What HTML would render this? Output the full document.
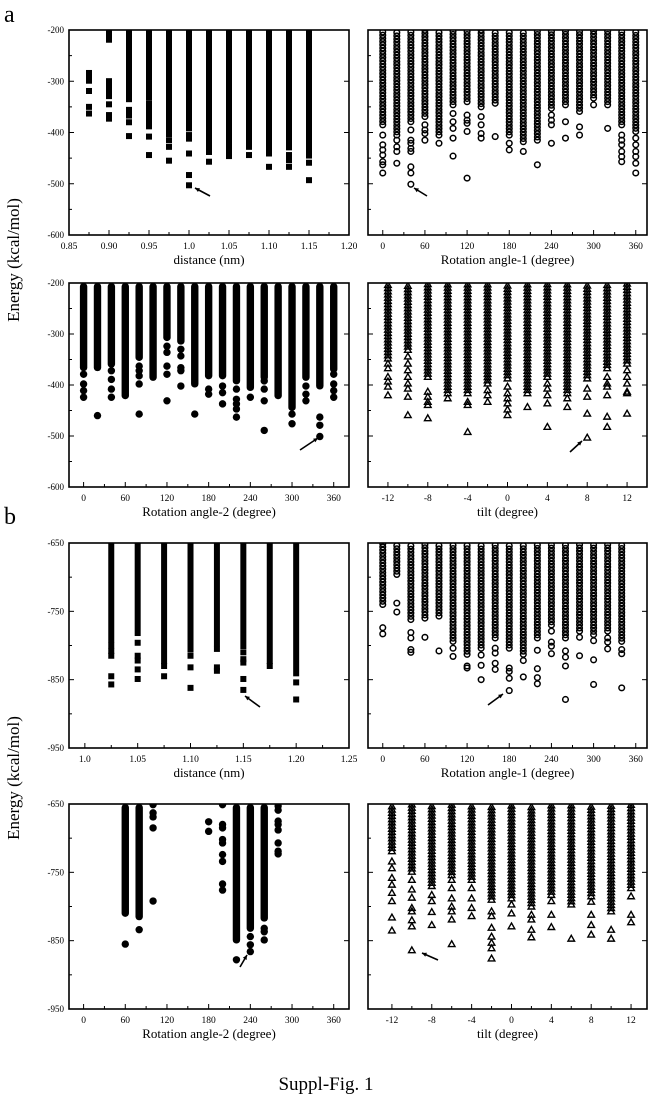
<!DOCTYPE html>
<html><head><meta charset="utf-8">
<style>
html,body{margin:0;padding:0;background:#fff;}
svg{display:block;font-family:"Liberation Serif",serif;}
</style></head>
<body>
<svg id="fig" width="652" height="1097" viewBox="0 0 652 1097" xmlns="http://www.w3.org/2000/svg">
<text x="4" y="22" font-size="24">a</text>
<text x="4" y="524" font-size="24">b</text>
<text transform="translate(19,260) rotate(-90)" text-anchor="middle" font-size="17">Energy (kcal/mol)</text>
<text transform="translate(19,778) rotate(-90)" text-anchor="middle" font-size="17">Energy (kcal/mol)</text>
<text x="326" y="1090" text-anchor="middle" font-size="19">Suppl-Fig. 1</text>
</svg>
<script>
// ---- data ----
const p1X=[0.875,0.90,0.925,0.95,0.975,1.0,1.025,1.05,1.075,1.10,1.125,1.15];
const p1Bands=[[[-278,-298]],[[-200,-218],[-294,-320]],[[-200,-327],[-350,-366]],[[-200,-330],[-337,-382]],[[-200,-402]],[[-200,-391]],[[-200,-418]],[[-200,-423]],[[-200,-427]],[[-200,-440]],[[-200,-428]],[[-200,-444]]];
const p1Pts=[[-319,-350,-363],[-329,-345,-366,-373],[-335,-380,-407],[-388,-408,-444],[-415,-428,-455],[-405,-412,-441,-483,-503],[-428,-438,-457],[-430,-440,-446],[-444],[-467],[-444,-454,-467],[-459,-493]];

const p2X=[0,20,40,60,80,100,120,140,160,180,200,220,240,260,280,300,320,340,360];
const p2Band=[-385,-405,-379,-369,-405,-346,-340,-350,-343,-405,-418,-415,-353,-346,-359,-333,-346,-385,-398];
const p2Pts=[[-405,-424,-434,-444,-457,-463,-479],[-415,-428,-437,-460],[-395,-415,-421,-431,-437,-467,-479,-501],[-385,-395,-402,-415],[-421],[-363,-379,-392,-411,-446],[-366,-376,-382,-398,-489],[-369,-385,-402,-411],[-408],[-421,-434],[-437],[-463],[-366,-376,-385,-421],[-379,-411],[-389,-405],[-346],[-392],[-405,-415,-424,-437,-447,-457],[-411,-424,-437,-447,-460,-479]];

const p3X=[0,20,40,60,80,100,120,140,160,180,200,220,240,260,280,300,320,340,360];
const p3Band=[-366,-366,-359,-421,-346,-385,-307,-314,-398,-382,-382,-392,-405,-385,-421,-444,-385,-402,-369];
const p3Pts=[[-379,-398,-411,-424],[-460],[-372,-389,-408,-424],[],[-363,-372,-382,-398,-457],[],[-324,-336,-363,-379,-431],[-330,-343,-366,-372,-402],[-457],[-408,-418],[-402,-415,-437],[-408,-428,-437,-447,-463],[-424],[-392,-408,-431,-489],[],[-457,-476],[-402,-418,-431],[-463,-479,-501],[-379,-398,-411,-424]];

const p4X=[-12,-10,-8,-6,-4,-2,0,2,4,6,8,10,12];
const p4Band=[-348,-331,-384,-416,-416,-397,-387,-416,-384,-416,-387,-367,-358];
const p4Pts=[[-358,-367,-384,-393,-403,-420],[-344,-358,-371,-384,-397,-407,-423,-459],[-413,-423,-433,-439,-465],[-426],[-433,-439,-492],[-410,-420,-433],[-403,-416,-426,-436,-448,-459],[-443],[-397,-407,-420,-436,-482],[-426,-443],[-407,-423,-456,-503],[-384,-397,-403,-420,-462,-482],[-371,-384,-397,-413,-416,-456]];

const p5X=[1.025,1.05,1.075,1.10,1.125,1.15,1.175,1.20];
const p5Band=[-791,-781,-822,-805,-796,-800,-822,-840];
const p5Pts=[[-800,-808,-815,-845,-857],[-796,-815,-822,-835,-849],[-830,-845],[-815,-832,-862],[-805,-832,-837],[-810,-820,-825,-849,-865],[-830],[-854,-879]];

const p6X=[0,20,40,60,80,100,120,140,160,180,200,220,240,260,280,300,320,340];
const p6Band=[-740,-696,-762,-760,-757,-794,-813,-804,-789,-804,-813,-789,-770,-789,-779,-784,-779,-794];
const p6Pts=[[-774,-783],[-738,-751],[-781,-789,-806,-810],[-788],[-808],[-804,-816],[-830,-833],[-814,-829,-850],[-804,-811,-826,-835],[-833,-838,-848,-866],[-822,-846],[-807,-834,-847,-856],[-779,-795,-801,-812],[-808,-817,-830,-879],[-788,-815],[-793,-821,-857],[-789,-795,-805],[-806,-812,-862]];

const p7X=[60,80,100,180,200,220,240,260,280];
const p7Band=[-810,-815,null,null,null,-849,-832,-817,null];
const p7Pts=[[-855],[-834],[-651,-663,-669,-685,-792],[-676,-690],[-651,-680,-685,-702,-707,-724,-734,-767,-776],[-878],[-844,-856,-866],[-832,-837,-849],[-653,-659,-675,-680,-688,-707,-719,-723]];

const p8X=[-12,-10,-8,-6,-4,-2,0,2,4,6,8,10,12];
const p8Band=[-719,-749,-770,-754,-761,-790,-788,-795,-783,-797,-785,-807,-773];
const p8Pts=[[-734,-744,-758,-768,-780,-792,-816,-835],[-761,-775,-787,-802,-807,-820,-829,-864],[-783,-792,-808,-827],[-761,-773,-788,-800,-807,-819,-855],[-773,-788,-802,-814],[-807,-814,-831,-844,-853,-861,-876],[-797,-810,-829],[-800,-812,-819,-834,-845],[-792,-812,-830],[-847],[-793,-812,-827,-841],[-834,-847],[-785,-812,-823]];

const yTicksA=[-200,-300,-400,-500,-600];
const yTicksB=[-650,-750,-850,-950];
const distTicksA=[0.85,0.90,0.95,1.0,1.05,1.10,1.15,1.20];
const distLabelsA=["0.85","0.90","0.95","1.0","1.05","1.10","1.15","1.20"];
const distTicksB=[1.0,1.05,1.10,1.15,1.20,1.25];
const distLabelsB=["1.0","1.05","1.10","1.15","1.20","1.25"];
const angTicks=[0,60,120,180,240,300,360];
const tiltTicks=[-12,-8,-4,0,4,8,12];

// ---- rendering ----
const svg=document.getElementById('fig');
const NS='http://www.w3.org/2000/svg';
function mk(tag,attrs,parent){const e=document.createElementNS(NS,tag);for(const k in attrs)e.setAttribute(k,attrs[k]);(parent||svg).appendChild(e);return e;}

function panel(cfg){
  const g=mk('g',{});
  
  
  const X=v=>cfg.x0+(v-cfg.xd[0])/(cfg.xd[1]-cfg.xd[0])*(cfg.x1-cfg.x0);
  const Y=v=>cfg.y0+(cfg.yd[0]-v)/(cfg.yd[0]-cfg.yd[1])*(cfg.y1-cfg.y0);
  const marks=mk('g',{},g);
  
  
  function marker(x,y){
    let e;
    if(cfg.m==='sq'){e=mk('rect',{x:x-3,y:y-3,width:6,height:6,fill:'#000'},marks);}
    else if(cfg.m==='dot'){e=mk('circle',{cx:x,cy:y,r:3.7,fill:'#000'},marks);}
    else if(cfg.m==='oc'){e=mk('circle',{cx:x,cy:y,r:2.8,fill:'none',stroke:'#000','stroke-width':1.5},marks);}
    else {e=mk('polygon',{points:`${x},${y-3.3} ${x+3.3},${y+2.5} ${x-3.3},${y+2.5}`,fill:'none',stroke:'#000','stroke-width':1.4},marks);}
    
    
  }
  function band(x,top,bot){
    const yt=Y(top), yb=Y(bot);
    if(cfg.m==='sq'||cfg.m==='dot'){
      const w=cfg.m==='sq'?6:7.4;
      const r=mk('rect',{x:x-w/2,y:yt,width:w,height:Math.max(1,yb-yt+3.5),rx:cfg.m==='dot'?3.5:0,fill:'#000'},marks);
      
      
    } else {
      for(let y=yb;y>=yt;y-=3.2) marker(x,y);
    }
  }
  cfg.xs.forEach((xv,i)=>{
    const x=X(xv);
    if(cfg.bands){cfg.bands[i].forEach(b=>band(x,b[0],b[1]));}
    else if(cfg.band[i]!==null){band(x,cfg.yd[0],cfg.band[i]);}
    cfg.pts[i].forEach(v=>marker(x,Y(v)));
  });
  // white mask above frame top so bands don't overflow
  mk('rect',{x:cfg.x0-6,y:cfg.y0-8,width:cfg.x1-cfg.x0+12,height:8,fill:'#fff'},g);
  const fr=mk('rect',{x:cfg.x0,y:cfg.y0,width:cfg.x1-cfg.x0,height:cfg.y1-cfg.y0,fill:'none',stroke:'#000','stroke-width':1.6},g);
  
  
  const ys=cfg.yt;
  for(let i=0;i<ys.length;i++){
    const y=Y(ys[i]);
    mk('line',{x1:cfg.x0,x2:cfg.x0+5,y1:y,y2:y,stroke:'#000','stroke-width':1},g);
    mk('line',{x1:cfg.x1,x2:cfg.x1-5,y1:y,y2:y,stroke:'#000','stroke-width':1},g);
    if(i<ys.length-1){const ym=Y((ys[i]+ys[i+1])/2);mk('line',{x1:cfg.x0,x2:cfg.x0+3,y1:ym,y2:ym,stroke:'#000','stroke-width':1},g);}
    if(cfg.ylab){
      const t=mk('text',{x:cfg.x0-5,y:y+3,'text-anchor':'end','font-size':9},g);
      t.textContent=ys[i];
      
      
    }
  }
  const xt=cfg.xt;
  for(let i=0;i<xt.length;i++){
    const x=X(xt[i]);
    mk('line',{x1:x,x2:x,y1:cfg.y1,y2:cfg.y1-5,stroke:'#000','stroke-width':1},g);
    if(i<xt.length-1){const xm=X((xt[i]+xt[i+1])/2);mk('line',{x1:xm,x2:xm,y1:cfg.y1,y2:cfg.y1-3,stroke:'#000','stroke-width':1},g);}
    const t=mk('text',{x:x,y:cfg.y1+14,'text-anchor':'middle','font-size':9.5},g);
    t.textContent=cfg.xl?cfg.xl[i]:xt[i];
    
    
  }
  const tt=mk('text',{x:(cfg.x0+cfg.x1)/2,y:cfg.y1+29,'text-anchor':'middle','font-size':13},g);
  tt.textContent=cfg.title;
  
  
  const a=cfg.arrow;
  const ar=mk('line',{x1:a[0],y1:a[1],x2:a[2],y2:a[3],stroke:'#000','stroke-width':1.6},g);
  
  
  const ang=Math.atan2(a[3]-a[1],a[2]-a[0]);
  const hx=a[2],hy=a[3];
  const hd=mk('polygon',{points:`${hx},${hy} ${hx-5*Math.cos(ang-0.45)},${hy-5*Math.sin(ang-0.45)} ${hx-5*Math.cos(ang+0.45)},${hy-5*Math.sin(ang+0.45)}`,fill:'#000'},g);
  
  
}

const L=[69,349], R=[368,647];
const rows=[[30,235],[283,487],[543,748],[804,1009]];
panel({name:'panel-a-distance',x0:L[0],x1:L[1],y0:rows[0][0],y1:rows[0][1],xd:[0.85,1.20],yd:[-200,-600],xs:p1X,bands:p1Bands,pts:p1Pts,m:'sq',yt:yTicksA,ylab:true,xt:distTicksA,xl:distLabelsA,title:'distance (nm)',arrow:[210,196,195,188]});
panel({name:'panel-a-rotation-1',x0:R[0],x1:R[1],y0:rows[0][0],y1:rows[0][1],xd:[-21,376],yd:[-200,-600],xs:p2X,band:p2Band,pts:p2Pts,m:'oc',yt:yTicksA,ylab:false,xt:angTicks,title:'Rotation angle-1 (degree)',arrow:[427,196,414,188]});
panel({name:'panel-a-rotation-2',x0:L[0],x1:L[1],y0:rows[1][0],y1:rows[1][1],xd:[-21,382],yd:[-200,-600],xs:p3X,band:p3Band,pts:p3Pts,m:'dot',yt:yTicksA,ylab:true,xt:angTicks,title:'Rotation angle-2 (degree)',arrow:[300,450,318,438]});
panel({name:'panel-a-tilt',x0:R[0],x1:R[1],y0:rows[1][0],y1:rows[1][1],xd:[-14,14],yd:[-200,-600],xs:p4X,band:p4Band,pts:p4Pts,m:'tri',yt:yTicksA,ylab:false,xt:tiltTicks,title:'tilt (degree)',arrow:[570,452,582,441]});
panel({name:'panel-b-distance',x0:L[0],x1:L[1],y0:rows[2][0],y1:rows[2][1],xd:[0.985,1.25],yd:[-650,-950],xs:p5X,band:p5Band,pts:p5Pts,m:'sq',yt:yTicksB,ylab:true,xt:distTicksB,xl:distLabelsB,title:'distance (nm)',arrow:[260,707,245,696]});
panel({name:'panel-b-rotation-1',x0:R[0],x1:R[1],y0:rows[2][0],y1:rows[2][1],xd:[-21,376],yd:[-650,-950],xs:p6X,band:p6Band,pts:p6Pts,m:'oc',yt:yTicksB,ylab:false,xt:angTicks,title:'Rotation angle-1 (degree)',arrow:[488,705,503,694]});
panel({name:'panel-b-rotation-2',x0:L[0],x1:L[1],y0:rows[3][0],y1:rows[3][1],xd:[-21,382],yd:[-650,-950],xs:p7X,band:p7Band,pts:p7Pts,m:'dot',yt:yTicksB,ylab:true,xt:angTicks,title:'Rotation angle-2 (degree)',arrow:[240,967,247,955]});
panel({name:'panel-b-tilt',x0:R[0],x1:R[1],y0:rows[3][0],y1:rows[3][1],xd:[-14.4,13.6],yd:[-650,-950],xs:p8X,band:p8Band,pts:p8Pts,m:'tri',yt:yTicksB,ylab:false,xt:tiltTicks,title:'tilt (degree)',arrow:[438,960,422,953]});
</script>
</body></html>
